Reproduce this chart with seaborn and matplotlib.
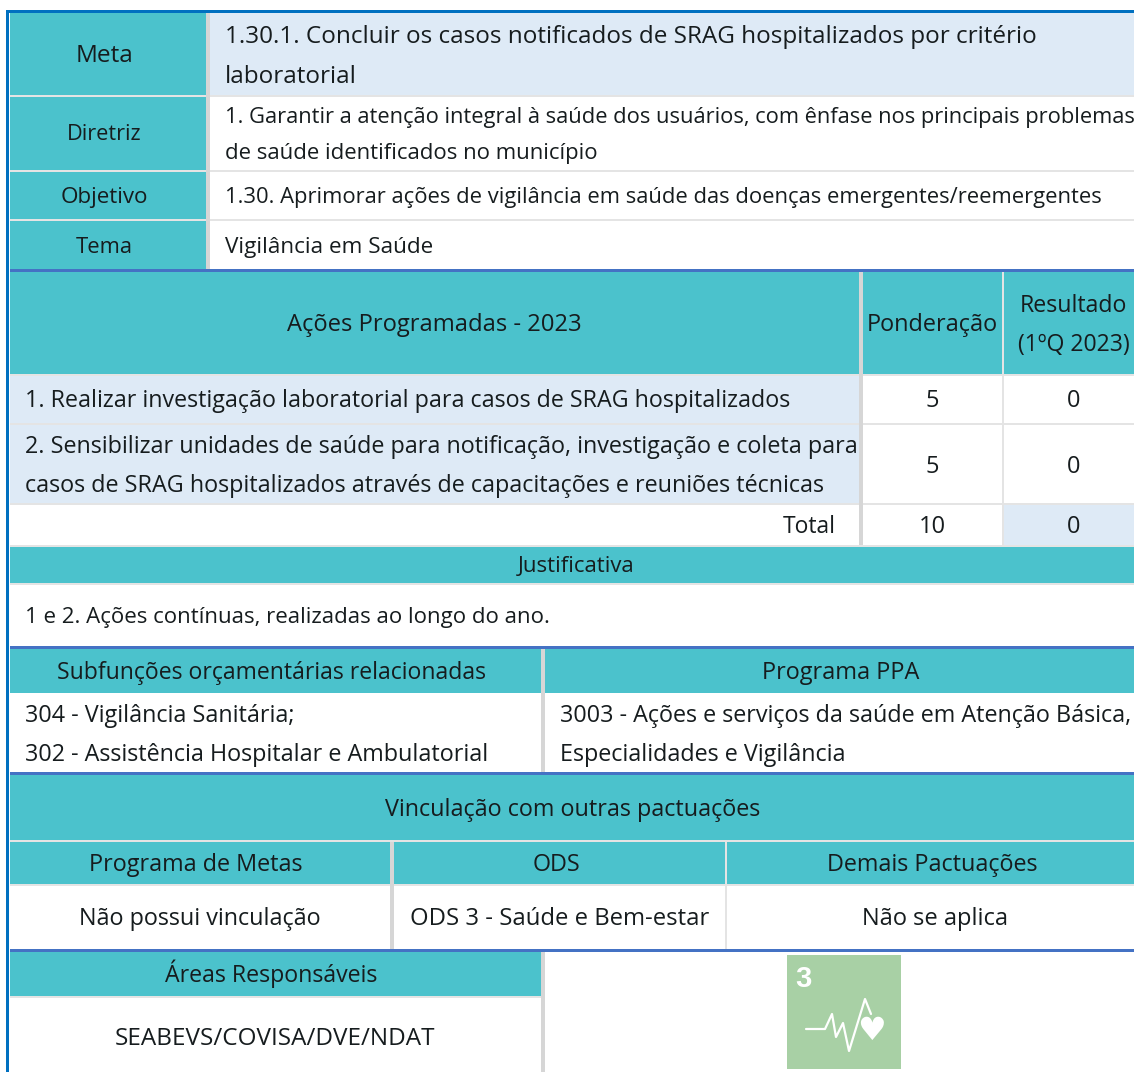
import matplotlib
matplotlib.use('Agg')
import matplotlib.pyplot as plt
import seaborn as sns

# Text of the sheet, block by block
meta_lines = ['1.30.1. Concluir os casos notificados de SRAG hospitalizados por critério', 'laboratorial']
diretriz_lines = ['1. Garantir a atenção integral à saúde dos usuários, com ênfase nos principais problemas',
                  'de saúde identificados no município']
objetivo_text = '1.30. Aprimorar ações de vigilância em saúde das doenças emergentes/reemergentes'
tema_text = 'Vigilância em Saúde'
side_labels = ['Meta', 'Diretriz', 'Objetivo', 'Tema']
acao_1 = '1. Realizar investigação laboratorial para casos de SRAG hospitalizados'
acao_2 = ['2. Sensibilizar unidades de saúde para notificação, investigação e coleta para',
          'casos de SRAG hospitalizados através de capacitações e reuniões técnicas']
ponderacao = [5, 5, 10]
resultado = [0, 0, 0]
justificativa = '1 e 2. Ações contínuas, realizadas ao longo do ano.'
subfuncoes = ['304 - Vigilância Sanitária;', '302 - Assistência Hospitalar e Ambulatorial']
programa_ppa = ['3003 - Ações e serviços da saúde em Atenção Básica,', 'Especialidades e Vigilância']
vinculos_head = ['Programa de Metas', 'ODS', 'Demais Pactuações']
vinculos_vals = ['Não possui vinculação', 'ODS 3 - Saúde e Bem-estar', 'Não se aplica']
areas = 'SEABEVS/COVISA/DVE/NDAT'
pulse_x = [806, 825, 832, 836, 843, 849, 865, 871]
pulse_y = [1029, 1029, 1014, 1037, 1023, 1051, 999, 1014]

TEAL = '#4bc2cc'
PALE = '#deeaf6'
GRID = '#e4e4e4'
SEP = '#d6d6d6'
BLUE = '#4472c4'
EDGE = '#0070c0'
INK = '#161c1e'
ICON = '#a8d0a5'

sns.set_theme(style='white')
plt.rcParams['font.family'] = ['Open Sans', 'DejaVu Sans']

fig, ax = plt.subplots(figsize=(11.34, 10.72), dpi=100)
ax.set_position([0, 0, 1, 1])
ax.set_xlim(0, 1134)
ax.set_ylim(1072, 0)
ax.axis('off')


def box(x0, y0, x1, y1, color):
    ax.fill_between([x0, x1], y0, y1, color=color, lw=0)


def label(x, y, s, size=16.8, ha='left'):
    ax.text(x, y, s, fontsize=size, ha=ha, va='baseline', color=INK, clip_on=True)


# fills
box(10, 13, 206, 269, TEAL)
box(210, 13, 1134, 95, PALE)
box(10, 272, 859, 374, TEAL)
box(863, 272, 1002, 374, TEAL)
box(1004, 272, 1134, 374, TEAL)
box(10, 376, 859, 423, PALE)
box(10, 425, 859, 503, PALE)
box(1004, 505, 1134, 545, PALE)
box(10, 547, 1134, 583, TEAL)
box(10, 649, 1134, 693, TEAL)
box(10, 775, 1134, 840, TEAL)
box(10, 842, 1134, 884, TEAL)
box(10, 952, 541, 996, TEAL)

# thin rules
for y in [95, 170, 219]:
    box(10, y, 1134, y + 2, GRID)
for y in [374, 423, 503, 545, 583, 840, 884, 996]:
    x1 = 541 if y == 996 else 1134
    box(10, y, x1, y + 2, GRID)
box(1002, 272, 1004, 545, GRID)
box(390, 842, 394, 949, SEP)
box(725, 842, 727, 949, GRID)
box(206, 13, 210, 269, SEP)
box(859, 272, 863, 545, SEP)
box(541, 649, 545, 772, SEP)
box(541, 952, 545, 1072, SEP)

# heavy rules
box(6, 10, 1134, 13, EDGE)
for y in [269, 646, 772, 949]:
    box(10, y, 1134, y + 3, BLUE)
box(6, 10, 9, 1072, EDGE)

# text
for s, x, y, size in zip(side_labels, [104, 104.5, 104.5, 104], [62, 140, 203, 253], [17.6, 15.6, 16.1, 15.8]):
    label(x, y, s, size, 'center')
label(225, 43, meta_lines[0], 17.5)
label(225, 83, meta_lines[1], 17.5)
label(225, 123, diretriz_lines[0], 15.75)
label(225, 159, diretriz_lines[1], 15.95)
label(225, 203, objetivo_text, 15.83)
label(225, 253, tema_text, 16.2)

label(434, 331, 'Ações Programadas - 2023', 17.1, 'center')
label(932.5, 331, 'Ponderação', 16.9, 'center')
label(1073.5, 312, 'Resultado', 16.7, 'center')
label(1074, 351, '(1ºQ 2023)', 16.6, 'center')
label(25, 407, acao_1, 16.75)
label(25, 453, acao_2[0])
label(25, 492, acao_2[1])
for y, p, r in zip([407, 473, 533], ponderacao, resultado):
    label(932.5, y, str(p), 17, 'center')
    label(1073.5, y, str(r), 17, 'center')
label(836, 533, 'Total', 16.5, 'right')

label(576, 572, 'Justificativa', 15.9, 'center')
label(25, 623, justificativa, 16)

label(271.5, 679, 'Subfunções orçamentárias relacionadas', 16.6, 'center')
label(840.5, 679, 'Programa PPA', 16.9, 'center')
for y, a, b in zip([722, 761], subfuncoes, programa_ppa):
    label(25, y, a, 16.85)
    label(560, y, b, 16.85)

label(573, 816, 'Vinculação com outras pactuações', 16.85, 'center')
for x, h in zip([196, 556, 932], vinculos_head):
    label(x, 871, h, 16.85, 'center')
for x, v, size in zip([200, 559.5, 935.5], vinculos_vals, [16.8, 17.2, 17]):
    label(x, 925, v, size, 'center')

label(271.5, 982, 'Áreas Responsáveis', 16.7, 'center')
label(274.5, 1045, areas, 17.5, 'center')

# SDG 3 tile
box(787, 955, 901, 1069, ICON)
ax.text(803, 987, '3', fontsize=21, fontweight='bold', family='Liberation Sans',
        color='white', ha='center', va='baseline')
ax.plot(pulse_x, pulse_y, color='white', lw=1.6)
ax.text(872, 1032, '♥', family='DejaVu Sans', fontsize=23, color='white', ha='center', va='center')

fig.savefig('out.png', dpi=100)
